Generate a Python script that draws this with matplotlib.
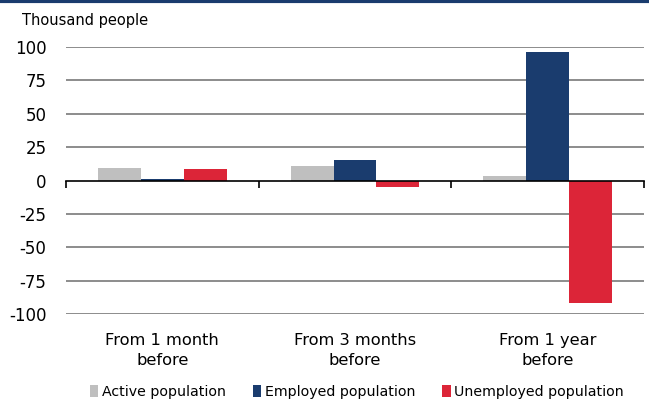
import numpy as np
import matplotlib.pyplot as plt
from matplotlib.patches import Patch

categorias = ["From 1 month\nbefore", "From 3 months\nbefore", "From 1 year\nbefore"]
series = ["Active population", "Employed population", "Unemployed population"]
ativa = [9.5, 10.5, 3.7]
empregada = [1.2, 15.5, 96.0]
desempregada = [8.3, -4.8, -92.0]
yticks = [-100, -75, -50, -25, 0, 25, 50, 75, 100]

cores = ["#bfbfbf", "#1a3c6e", "#dc2538"]

plt.rcParams['font.family'] = ['DejaVu Sans']

fig = plt.figure(figsize=(6.49, 4.00), dpi=100)
ax = fig.add_axes([66 / 649, 1 - 314 / 400, (644 - 66) / 649, (314 - 47) / 400])

x = np.arange(len(categorias))
w = 0.223
for i, (vals, cor) in enumerate(zip([ativa, empregada, desempregada], cores)):
    ax.bar(x + (i - 1) * w, vals, width=w, color=cor, zorder=3)

ax.set_xlim(-0.5, len(categorias) - 0.5)
ax.set_ylim(-100, 100)
ax.set_yticks(yticks)
ax.set_yticklabels([str(v) for v in yticks], fontsize=12)
ax.tick_params(axis='y', length=0, pad=14)
for v in yticks:
    if v != 0:
        ax.axhline(v, color='#8c8c8c', lw=1.4, zorder=1)

for s in ['top', 'right', 'left']:
    ax.spines[s].set_visible(False)
ax.spines['bottom'].set_position(('data', 0))
ax.spines['bottom'].set_color('black')
ax.spines['bottom'].set_linewidth(1.2)
ax.spines['bottom'].set_zorder(4)
ax.set_xticks(np.arange(len(categorias) + 1) - 0.5)
ax.set_xticklabels([])
ax.tick_params(axis='x', direction='out', length=5, width=1.2, color='black')

for xi, cat in zip(x, categorias):
    ax.text(xi, -0.07, cat, transform=ax.get_xaxis_transform(), ha='center', va='top',
            fontsize=11.7, linespacing=1.45)

fig.text(22 / 649, 1 - 20 / 400, "Thousand people", fontsize=10.5, va='center', ha='left')

# linha azul no topo
fig.add_artist(plt.Line2D([0, 1], [0.997, 0.997], color='#1a3c6e', lw=3, transform=fig.transFigure))

handles = [Patch(facecolor=c, edgecolor='none') for c in cores]
fig.legend(handles, series, loc='center', bbox_to_anchor=(0.55, 0.02), ncol=3, frameon=False,
           fontsize=10.2, handlelength=0.6, handleheight=0.9, handletextpad=0.25, columnspacing=1.9)

fig.savefig("out.png", dpi=100)
